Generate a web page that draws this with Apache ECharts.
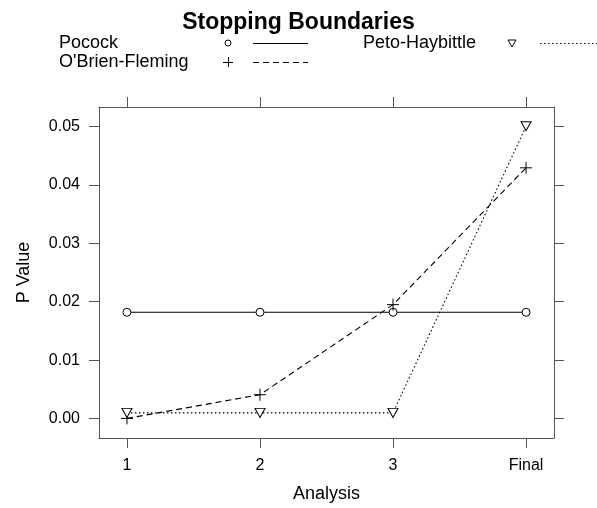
<!DOCTYPE html>
<html>
<head>
<meta charset="utf-8">
<script src="https://cdn.jsdelivr.net/npm/echarts@6.0.0/dist/echarts.min.js"></script>
<style>
  html, body { margin: 0; padding: 0; background: #fff; }
  #chart { width: 597px; height: 508px; }
</style>
</head>
<body>
<div id="chart"></div>
<script>
// analyses (x positions) and their tick labels
const analyses = [1, 2, 3, 4];
const analysisLabels = ['1', '2', '3', 'Final'];
// nominal p value boundaries per analysis
const pocock = [0.0182, 0.0182, 0.0182, 0.0182];
const obrienFleming = [0.00005, 0.0041, 0.0195, 0.0429];
const petoHaybittle = [0.001, 0.001, 0.001, 0.05];
const pTicks = [0, 0.01, 0.02, 0.03, 0.04, 0.05];
const seriesNames = ['Pocock', "O'Brien-Fleming", 'Peto-Haybittle'];

const FONT = '"Liberation Sans", Helvetica, Arial, sans-serif';
const BOX = '#555';

function pairs(vals) {
    return analyses.map((a, i) => [a, vals[i]]);
}

const plusPath = 'path://M0,6L12,6M6,0L6,12';
const triPath = 'path://M0,0L10,0L5,9Z';

const styles = [
    { symbol: 'circle', size: 8, dash: 'solid' },
    { symbol: plusPath, size: 12, dash: [6, 4] },
    { symbol: triPath, size: [10, 9], dash: [1.5, 2.5] }
];
const values = [pocock, obrienFleming, petoHaybittle];

let series = seriesNames.map((name, i) => ({
    name: name,
    type: 'line',
    data: pairs(values[i]),
    symbol: styles[i].symbol,
    symbolSize: styles[i].size,
    showAllSymbol: true,
    itemStyle: { color: '#fff', borderColor: '#000', borderWidth: 1 },
    lineStyle: { color: '#000', width: 1.1, type: styles[i].dash },
    emphasis: { disabled: true },
    silent: true,
    z: 3
}));

// lattice style key: text, point, line; two rows, filled by column
let legendGraphics = [];
const colText = [59, 363], colPoint = [228, 512], colLine = [[253, 308], [540, 597]];
const rowY = [43, 62];
seriesNames.forEach((name, i) => {
    let col = Math.floor(i / 2), row = i % 2;
    let y = rowY[row];
    let px = colPoint[col];
    legendGraphics.push({
        type: 'text',
        style: { text: name, x: colText[col], y: y, textAlign: 'left', textVerticalAlign: 'middle',
                 fontSize: 18, fontFamily: FONT, fill: '#000' }
    });
    if (i === 0) {
        legendGraphics.push({ type: 'circle', shape: { cx: px, cy: y, r: 3 },
            style: { fill: '#fff', stroke: '#000', lineWidth: 1 } });
    } else if (i === 1) {
        legendGraphics.push({ type: 'line', shape: { x1: px - 5, y1: y + 0.5, x2: px + 5, y2: y + 0.5 }, style: { stroke: '#000', lineWidth: 1 } });
        legendGraphics.push({ type: 'line', shape: { x1: px + 0.5, y1: y - 5, x2: px + 0.5, y2: y + 5 }, style: { stroke: '#000', lineWidth: 1 } });
    } else {
        legendGraphics.push({ type: 'polygon', shape: { points: [[px - 4, y - 3], [px + 4, y - 3], [px, y + 4]] },
            style: { fill: '#fff', stroke: '#000', lineWidth: 1 } });
    }
    let d = styles[i].dash;
    legendGraphics.push({
        type: 'line',
        shape: { x1: colLine[col][0], y1: y + 0.5, x2: colLine[col][1], y2: y + 0.5 },
        style: { stroke: '#000', lineWidth: 1, lineDash: d === 'solid' ? null : d }
    });
});

const xRange = { min: 0.79, max: 4.21 };
const yRange = { min: -0.0033, max: 0.0533 };

function xAxisOf(pos, labels) {
    return {
        type: 'value', position: pos, min: xRange.min, max: xRange.max,
        axisLine: { show: true, onZero: false, lineStyle: { color: BOX, width: 1 } },
        axisTick: { show: true, inside: false, length: 10, customValues: analyses, lineStyle: { color: BOX } },
        axisLabel: labels ? {
            customValues: analyses, margin: 20, color: '#000', fontSize: 16, fontFamily: FONT,
            formatter: v => analysisLabels[analyses.indexOf(v)]
        } : { show: false },
        splitLine: { show: false }
    };
}

function yAxisOf(pos, labels) {
    return {
        type: 'value', position: pos, min: yRange.min, max: yRange.max,
        axisLine: { show: true, onZero: false, lineStyle: { color: BOX, width: 1 } },
        axisTick: { show: true, inside: false, length: 10, customValues: pTicks, lineStyle: { color: BOX } },
        axisLabel: labels ? {
            customValues: pTicks, margin: 19, color: '#000', fontSize: 16, fontFamily: FONT,
            formatter: v => v.toFixed(2)
        } : { show: false },
        splitLine: { show: false }
    };
}

let xMain = xAxisOf('bottom', true);
xMain.name = 'Analysis';
xMain.nameLocation = 'middle';
xMain.nameGap = 47;
xMain.nameTextStyle = { color: '#000', fontSize: 18, fontFamily: FONT };

let yMain = yAxisOf('left', true);
yMain.name = 'P Value';
yMain.nameLocation = 'middle';
yMain.nameGap = 66;
yMain.nameTextStyle = { color: '#000', fontSize: 18, fontFamily: FONT };

let chart = echarts.init(document.getElementById('chart'), null, { renderer: 'canvas' });
let option = {
    animation: false,
    backgroundColor: '#fff',
    title: {
        text: 'Stopping Boundaries',
        left: 'center',
        top: 6,
        textStyle: { color: '#000', fontSize: 23, fontWeight: 'bold', fontFamily: FONT }
    },
    grid: { left: 99, right: 43, top: 107, bottom: 70, containLabel: false },
    xAxis: [xMain, xAxisOf('top', false)],
    yAxis: [yMain, yAxisOf('right', false)],
    graphic: legendGraphics,
    series: series
};
option && chart.setOption(option);
</script>
</body>
</html>
